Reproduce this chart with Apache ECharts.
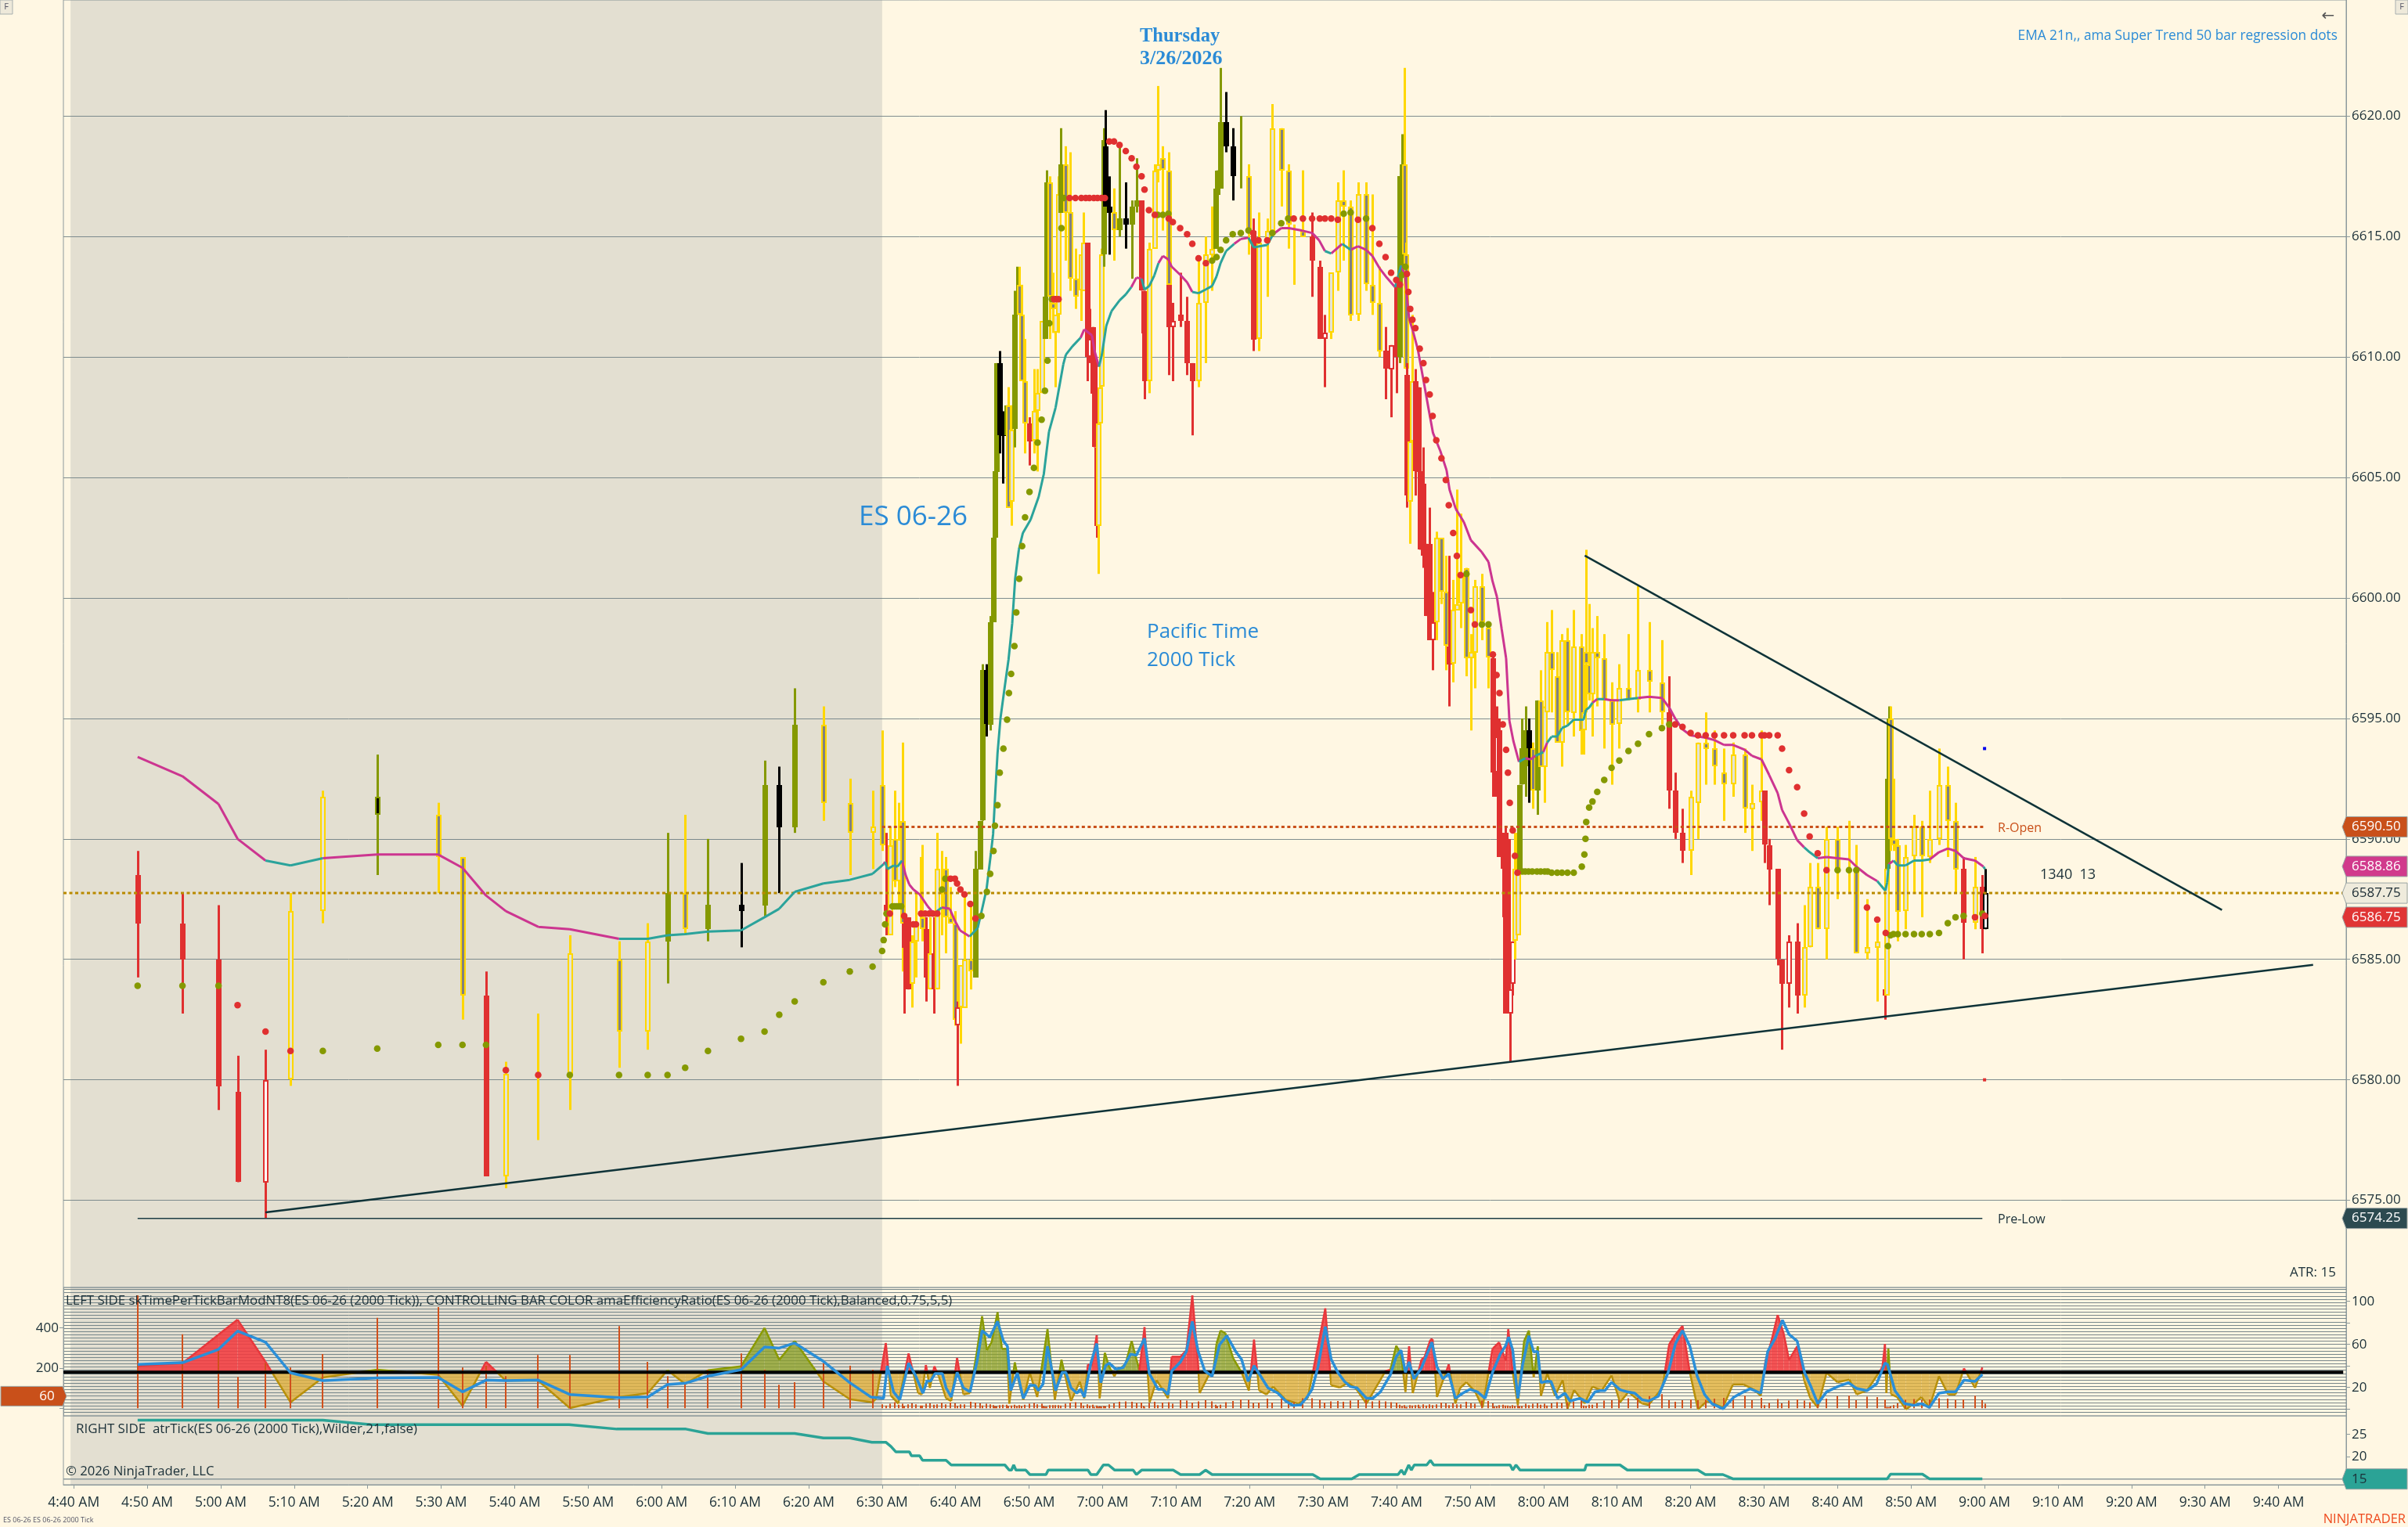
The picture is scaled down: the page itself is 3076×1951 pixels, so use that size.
<!DOCTYPE html>
<html><head><meta charset="utf-8">
<script src="https://cdn.jsdelivr.net/npm/echarts@6/dist/echarts.min.js"></script>
<style>html,body{margin:0;padding:0;background:#FFF7E3;overflow:hidden}#c{width:3076px;height:1951px}</style>
</head><body><div id="c"></div>
<script>
const R=0,Y=1,G=2,K=3,M=0,T=1;
// time in minutes after midnight
const xMin=278.6,xMax=589.2;
const timeTicks=[280,290,300,310,320,330,340,350,360,370,380,390,400,410,420,430,440,450,460,470,480,490,500,510,520,530,540,550,560,570,580];
const priceTicks=[6575,6580,6585,6590,6595,6600,6605,6610,6615,6620];
// [time, open, high, low, close, colour, time-per-tick-bar]
const barRows=[
[288.7,6588.5,6589.5,6584.25,6586.5,R,563],[294.8,6586.5,6587.75,6582.75,6585,R,369],[299.7,6585,6587.25,6578.75,6579.75,R,290],[302.3,6579.5,6581,6575.75,6575.75,R,156],[306.1,6575.75,6581.25,6574.25,6580,R,225],
[309.5,6580,6587.75,6579.75,6587,Y,203],[313.9,6587,6592,6586.5,6591.75,Y,270],[321.3,6591.75,6593.5,6588.5,6591,G,450],[329.6,6591,6591.5,6587.75,6589.25,Y,504],[332.9,6589.25,6589.25,6582.5,6583.5,Y,203],
[336.1,6583.5,6584.5,6576,6576,R,212],[338.8,6576,6580.75,6575.5,6580.25,Y,160],[343.2,6580.25,6582.75,6577.5,6580.25,Y,265],[347.5,6580.25,6586,6578.75,6585.25,Y,265],[354.2,6585,6585.75,6580.5,6582,Y,410],
[358.1,6582,6586.5,6581.25,6585.75,Y,231],[360.8,6585.75,6590.25,6584,6587.75,G,160],[363.2,6587.75,6591,6586,6586.25,Y,127],[366.3,6586.25,6590,6585.75,6587.25,G,192],[370.8,6587.25,6589,6585.5,6587,K,273],
[374,6587.25,6593.25,6586.75,6592.25,G,192],[376,6592.25,6593,6587.75,6590.5,K,117],[378.1,6590.5,6596.25,6590.25,6594.75,G,130],[382,6594.75,6595.5,6590.75,6591.5,Y,225],[385.6,6591.5,6592.5,6588.5,6590.25,Y,212],[388.7,6590.25,6592,6588.75,6590.5,Y,192],
[390,6592.25,6594.5,6589.5,6589.75,Y,20],[390.5,6587.25,6590.25,6586,6587,R,14],[391.05,6586,6590.5,6586,6589.75,Y,22],[391.75,6590,6592,6588,6588.25,Y,30],[392.2,6588.25,6591.5,6587.25,6590,Y,18],[392.75,6590.75,6594,6584.5,6586.5,Y,22],
[393,6586.5,6586.75,6582.75,6585.5,R,12],[393.5,6586.75,6586.75,6583.75,6583.75,R,20],[394.1,6584,6586,6583,6585.75,Y,24],[394.6,6585.75,6587.75,6584.25,6586.5,Y,20],[395.2,6587,6589.25,6586.75,6587,Y,14],[395.5,6586.75,6589.75,6585.75,6586.25,Y,14],
[396,6586.25,6586.75,6583.25,6584.25,R,22],[396.55,6583.75,6586.75,6583.75,6585.25,Y,24],[397,6585.25,6586.75,6582.75,6583.75,R,18],[397.5,6583.75,6590.25,6583.75,6588.75,Y,20],[398.1,6587,6589.5,6586,6587,Y,26],[398.6,6588.75,6589.25,6585.25,6586.75,Y,20],
[399.3,6586.75,6588,6586.5,6586.5,Y,28],[399.9,6586.5,6587,6582.25,6582.5,Y,24],[400.2,6582.25,6583.25,6579.75,6583,R,12],[400.7,6583,6584.75,6581.5,6584.75,Y,20],[401.2,6583,6587.75,6583,6585,Y,20],[402,6585,6587.25,6583.75,6584.5,Y,32],
[402.7,6584.25,6589.5,6584.25,6588.75,G,28],[403.3,6588.75,6590.75,6588.75,6590.75,G,24],[403.65,6590.75,6597.25,6590.75,6597,G,14],[404.2,6597,6597.25,6594.25,6594.75,K,22],[404.7,6594.75,6599.25,6594.5,6599,G,20],[405.1,6599,6602.5,6599,6602.5,G,16],
[405.35,6602.5,6605.25,6602.5,6605.25,G,10],[405.6,6605.25,6609.75,6605.25,6609.75,G,10],[406,6609.75,6610.25,6606,6606.75,K,16],[406.45,6607,6607.75,6604.75,6606.75,K,18],[406.9,6606.75,6608,6606.75,6608,G,18],[407.2,6608,6608.75,6603.75,6603.75,Y,12],
[407.55,6604,6608,6603,6607,Y,14],[408,6607,6612.75,6606.25,6611.75,G,18],[408.3,6611.75,6613.75,6611.75,6612.25,G,12],[408.7,6613,6613.75,6611.75,6611.75,Y,16],[409,6611.75,6613,6609,6609,Y,12],[409.45,6609,6610.75,6606,6607.25,Y,18],
[410,6607.25,6607.5,6605.5,6606.5,R,22],[410.65,6606.5,6609.5,6606,6607.75,Y,26],[411.15,6607.75,6609.5,6605.25,6608.5,Y,20],[411.7,6608.5,6611.5,6608.5,6611.5,Y,22],[412,6611.5,6612.5,6611.5,6611.5,Y,12],[412.2,6610.75,6614.5,6610.75,6612.5,G,8],
[412.4,6612.5,6617.75,6612,6617.25,G,8],[412.8,6617.25,6617.5,6610.75,6612.5,Y,16],[413.2,6612.25,6613.5,6611,6612,Y,16],[413.6,6611,6611.75,6608.75,6611.75,Y,16],[414,6611.75,6617.5,6611,6616.75,Y,16],[414.35,6616,6619.5,6616,6618,G,14],
[414.9,6618,6618.75,6614,6616,Y,22],[415.6,6616,6618.5,6612.75,6613.25,Y,28],[416.35,6613.25,6614.5,6612,6612.5,Y,30],[417.05,6612.75,6614.25,6611.5,6614.25,Y,28],[417.4,6612.75,6616,6612.75,6614.75,Y,14],[417.9,6614.75,6614.75,6609,6610,R,20],
[418.25,6610,6612,6609.75,6610.75,R,14],[418.7,6611.25,6611.25,6608.5,6608.5,R,18],[418.85,6610,6610,6606.25,6606.25,R,6],[419.2,6606.25,6606.25,6602.5,6603,R,14],[419.4,6603,6607.25,6601,6607.25,Y,8],[419.65,6607.25,6612.25,6607.25,6608.75,Y,10],
[419.85,6608.75,6614.5,6608.75,6614.25,Y,8],[420.15,6614.25,6619.5,6613.75,6619,G,12],[420.4,6618.75,6620.25,6616.25,6616.25,K,10],[420.9,6616.25,6617.5,6614.25,6616,K,20],[421.5,6616,6617,6614,6615.25,Y,24],[422.3,6615.25,6618.75,6615,6615.75,G,32],
[423.15,6615.75,6617.25,6614.5,6615.5,K,34],[423.95,6615.5,6616.5,6613.25,6616.25,G,32],[424.6,6616.25,6618.25,6616,6616.5,G,26],[425.3,6616.5,6616.5,6612.75,6612.75,R,28],[425.6,6612.75,6612.75,6611,6611,R,12],[425.7,6612.75,6612.75,6608.25,6609,R,6],
[426.3,6609,6614.75,6608.5,6614.5,Y,26],[427.1,6614.5,6618,6614.5,6617.75,Y,32],[427.5,6617.75,6621.25,6617.25,6618,Y,16],[428.2,6618.25,6618.75,6615.25,6617.75,Y,28],[428.95,6617.75,6618.5,6613,6613,Y,30],[429,6613,6613,6609.25,6611.25,R,4],
[429.55,6611.25,6612.25,6609,6611.5,R,22],[430.55,6611.75,6613.5,6611.25,6611.5,R,40],[431.5,6611.5,6612.5,6609.25,6609.75,R,38],[432.2,6609.75,6609.75,6606.75,6609,R,28],[433.05,6609,6614,6608.75,6612.25,Y,34],[434.05,6612.25,6615,6609.75,6614.25,Y,40],
[434.9,6614.25,6616.25,6612.75,6614.5,Y,34],[435.35,6614.5,6617,6614.5,6617,G,18],[435.6,6616.75,6617.75,6616.75,6617.75,G,10],[436.05,6617,6622,6617,6619.75,G,18],[436.8,6619.75,6621,6618.5,6618.75,K,30],[437.7,6618.75,6619.5,6616.5,6617.5,K,36],
[438.8,6617.5,6620,6617,6617.5,G,44],[439.85,6617.5,6618,6614.25,6615.25,Y,42],[440.5,6615.25,6615.75,6610.25,6610.75,R,26],[441.2,6610.75,6616,6610.25,6614.75,Y,28],[442.4,6614.75,6615.75,6612.5,6615.25,Y,48],[443.1,6615.25,6620.5,6615.25,6619.5,Y,28],
[444.3,6619.5,6619.5,6616.25,6617.75,Y,48],[445.25,6617.75,6618,6614.5,6615.5,Y,38],[446,6615.5,6615.5,6613,6615.5,Y,30],[447.25,6615.25,6617.75,6615,6615,Y,50],[448.5,6615,6616,6612.5,6614,R,50],[449.55,6613.75,6614,6610.75,6610.75,R,42],
[450.25,6610.75,6611.75,6608.75,6611,R,28],[451.1,6611,6613.5,6610.75,6613.5,Y,34],[452,6613.5,6617.25,6612.75,6616.5,Y,36],[452.8,6616.5,6617.75,6614,6616.25,Y,32],[453.75,6616.25,6616.5,6611.5,6611.75,Y,38],[454.75,6611.75,6617.25,6611.5,6616.75,Y,40],
[455.85,6616.75,6617.25,6612.75,6613,Y,44],[456.7,6613,6616.75,6611.75,6612.25,Y,34],[457.65,6612.25,6613.75,6610,6610.25,Y,38],[458.5,6610.25,6611.25,6608.25,6609.5,R,34],[459.25,6609.5,6610.5,6607.5,6610.5,R,30],[459.95,6613,6613,6608.5,6610,R,28],
[460.4,6610,6617.5,6609.75,6617.5,G,18],[460.7,6613.5,6619.25,6613.5,6618,G,12],[461.1,6618,6622,6613.5,6614.25,Y,16],[461.25,6614.25,6614.75,6609.5,6609.5,Y,6],[461.4,6609.25,6609.75,6603.75,6604.25,R,6],[461.8,6604,6606.5,6602.25,6606.5,Y,16],
[462.15,6606.5,6611.75,6606.5,6609,Y,14],[462.55,6609,6609.5,6604.25,6605.25,R,16],[463,6608.75,6608.75,6605.25,6605.25,R,18],[463.15,6605.25,6605.25,6602,6602,R,6],[463.65,6604.75,6606.25,6601.25,6601.75,R,20],[464,6602.25,6602.25,6599.25,6599.25,R,14],
[464.5,6602.25,6603.75,6598.25,6598.25,R,20],[464.9,6598.25,6600.25,6597,6599,R,16],[465.4,6599,6602.75,6598.25,6602.5,Y,20],[466.1,6602.5,6602.5,6599.75,6600.25,Y,28],[466.7,6600.25,6601.75,6597,6598,Y,24],[467.1,6598,6601.75,6595.5,6597.25,R,16],
[467.7,6597.25,6600.75,6596.5,6599.5,Y,24],[468.2,6599.5,6604.5,6599.5,6599.75,Y,20],[468.7,6599.75,6603.5,6598.75,6601,Y,20],[469.5,6601.25,6601.25,6596.75,6597.5,Y,32],[470.1,6597.5,6598.5,6594.5,6597.75,Y,24],[470.65,6597.75,6600.75,6596.25,6600.5,Y,22],
[471.6,6600.5,6601,6598.25,6599,Y,38],[472.5,6598.75,6599,6596.25,6597.5,Y,36],[473.1,6597.5,6597.75,6592.5,6592.75,R,24],[473.3,6595.5,6595.5,6591.75,6591.75,R,8],[473.6,6592.75,6595.5,6591.75,6594.25,R,10],[474,6594.5,6595,6589.25,6589.25,R,16],
[474.45,6590.25,6590.25,6586.75,6588.75,R,18],[474.8,6590.25,6590.5,6582.75,6582.75,R,14],[475.15,6590,6590,6582.75,6582.75,R,14],[475.4,6582.75,6583.75,6580.75,6583.75,R,10],[475.8,6584,6585.75,6583.5,6585.75,R,16],[476.1,6585.75,6590.25,6585,6588.75,Y,12],
[476.5,6586,6590.75,6586,6590.25,Y,16],[476.75,6588.75,6592.25,6588.75,6592.25,G,10],[477.05,6592.25,6595,6592.25,6593.75,G,12],[477.6,6593,6595.5,6591.75,6594.5,G,22],[478,6594.5,6595,6591.5,6593.75,K,16],[478.55,6593.75,6594,6591.25,6592,Y,22],
[479.15,6592,6595.75,6591,6595.75,G,24],[479.6,6595.75,6597,6593,6593,Y,18],[480.15,6593,6595.5,6591.5,6595.5,Y,22],[480.5,6595.25,6599,6595.25,6597.75,Y,14],[481.1,6597.75,6599.5,6595.25,6597,Y,24],[481.85,6596.75,6597.75,6594,6594,Y,30],
[482.5,6594,6598.5,6593,6598.25,Y,26],[483.25,6598.25,6598.75,6594.75,6595.25,Y,30],[484.1,6595.25,6599.5,6594.25,6598,Y,34],[485.1,6598,6598.5,6593.5,6594.5,Y,40],[485.45,6594.5,6597.25,6593.5,6595.25,Y,14],[485.75,6597.75,6602,6595.25,6597.25,Y,12],
[486.2,6597.25,6599.75,6595.75,6596,Y,18],[486.65,6596,6598.75,6594.25,6597.75,Y,18],[487.3,6597.75,6599.25,6595.5,6597.5,Y,26],[488.25,6597.5,6598.5,6593.75,6595.75,Y,38],[489.25,6595.75,6596.5,6592.25,6594.75,Y,40],[490.3,6594.75,6597.25,6593.75,6596.25,Y,42],
[491.55,6596.25,6598.5,6595.75,6595.75,Y,50],[492.85,6595.75,6600.5,6595.25,6597,Y,52],[494.35,6597,6599,6595.25,6596.5,Y,60],[496.1,6596.5,6598.25,6594.75,6595.25,Y,70],[497.1,6595.25,6596.75,6591.25,6592,R,40],[497.9,6592,6592.75,6590,6590.25,R,32],
[498.9,6590.25,6591.25,6589,6589.5,R,40],[500,6589.5,6592,6588.5,6591.75,Y,44],[501,6591.5,6594,6590,6594,Y,40],[502.05,6594,6595.25,6592.25,6593.75,Y,42],[503.25,6593.75,6594.5,6592.25,6593,Y,48],[504.55,6592.75,6593.75,6590.75,6592.25,Y,52],
[505.8,6592.25,6594,6591.75,6593.5,Y,50],[507.35,6593.5,6593.75,6590.25,6591.25,Y,62],[508.35,6591.25,6592.25,6589.5,6591.5,Y,40],[509.65,6591.5,6594.5,6590.75,6592,Y,52],[510.05,6592,6592,6589,6589.75,R,16],[510.7,6589.75,6590,6587.25,6588.75,R,26],
[511.85,6588.75,6588.75,6584.75,6585,R,46],[512.45,6585,6585,6581.25,6584,R,24],[513.4,6584,6586,6583,6585.75,R,38],[514.5,6585.75,6586.5,6582.75,6583.5,R,44],[515.45,6583.5,6587.25,6583,6585.5,Y,38],[516.2,6585.5,6589,6585.5,6588,Y,30],
[517.3,6588,6589,6586.25,6586.25,Y,44],[518.5,6586.25,6590.5,6585,6590,Y,48],[520,6590,6590.5,6587.5,6588.75,Y,60],[521.55,6588.75,6590.75,6587.75,6588.75,Y,62],[522.55,6588.75,6589.75,6585.25,6585.25,Y,40],[524,6585.25,6587.5,6585,6585.5,Y,58],
[525.4,6585.5,6586.5,6583.25,6585.75,Y,56],[526.5,6583.75,6585.75,6582.5,6583.5,R,44],[526.65,6583.5,6588.75,6583.5,6588.75,Y,6],[526.8,6588.75,6592.5,6588.75,6592.5,G,6],[526.95,6592.5,6595.5,6592.5,6595,G,6],[527.2,6595,6595.5,6589.5,6590,Y,10],
[527.6,6590,6592.5,6589.5,6589.75,Y,16],[528.2,6589.75,6590,6585.75,6587,Y,24],[529.25,6587,6589.75,6586.25,6589.25,Y,42],[530.4,6589.25,6591,6587.75,6590.5,Y,46],[531.45,6590.5,6590.75,6586.75,6589.25,Y,42],[532.55,6589.25,6592,6589,6590,Y,44],
[533.8,6590,6593.75,6589.75,6592.25,Y,50],[535,6592.25,6593,6589.25,6590.75,Y,48],[536.05,6590.75,6591.5,6587.75,6588.75,Y,42],[537.15,6588.75,6589.25,6585,6586.5,R,44],[538.7,6586.5,6589.25,6586.25,6588,Y,62],[539.7,6588,6588.5,6585.25,6586.25,R,40],
[540.05,6586.25,6588.75,6586.25,6587.75,K,22]
];
// EMA [time, value, colour]
const emaRows=[[288.7,6593.4,M],[294.8,6592.6,M],[299.7,6591.45,M],[302.3,6590,M],[306.1,6589.1,M],[309.5,6588.9,T],[313.9,6589.2,T],[321.3,6589.35,M],[329.6,6589.35,M],[332.9,6588.8,M],[336.1,6587.65,M],[338.8,6587,M],[343.2,6586.35,M],[347.5,6586.25,M],[354.2,6585.85,M],[358.1,6585.85,T],[360.8,6586,T],[363.2,6586.05,T],[366.3,6586.15,T],[370.8,6586.2,T],[374,6586.75,T],[376,6587.1,T],[378.1,6587.8,T],[382,6588.15,T],[385.6,6588.3,T],[388.7,6588.55,T],[390.2,6588.95,T],[390.4,6589.05,M],[390.7,6588.75,T],[391.6,6588.9,T],[392.1,6588.85,T],[392.7,6589.1,T],[393.2,6588.5,M],[393.7,6588.1,M],[394.25,6587.9,M],[395.1,6587.7,M],[396.2,6587.2,M],[396.9,6586.95,M],[397.25,6586.95,T],[398.1,6587.15,T],[399.2,6587.1,M],[399.9,6586.6,M],[400.6,6586.2,M],[401.9,6585.95,M],[403,6586.3,T],[403.5,6586.95,T],[404.2,6587.9,T],[404.8,6589.4,T],[405.1,6590.2,T],[405.4,6591.95,T],[405.7,6593.55,T],[406.1,6595,T],[406.65,6596.25,T],[407.2,6597.45,T],[407.7,6598.95,T],[408.1,6600.8,T],[408.6,6602,T],[409.15,6602.7,T],[410.2,6603.25,T],[411.3,6604.2,T],[412,6605.15,T],[412.7,6606.9,T],[413.6,6607.9,T],[414.65,6609.7,T],[415,6610.1,T],[415.9,6610.45,T],[417,6610.8,T],[417.5,6611.15,M],[418.55,6610.9,M],[418.9,6610.25,M],[419.5,6609.6,M],[419.9,6610.1,T],[420.5,6611.3,T],[421.2,6611.9,T],[422.3,6612.35,T],[423.15,6612.6,T],[423.9,6612.9,T],[424.6,6613.3,M],[425.3,6613.25,M],[425.7,6612.8,T],[426.35,6612.95,T],[427.05,6613.4,T],[427.6,6613.9,T],[428.2,6614.2,M],[428.95,6614.05,M],[429.4,6613.75,M],[430.6,6613.4,M],[431.5,6613.1,M],[432.2,6612.7,M],[433.05,6612.65,T],[434,6612.8,T],[434.9,6612.95,T],[435.5,6613.35,T],[436.05,6613.9,T],[436.8,6614.4,T],[437.9,6614.7,T],[438.8,6614.9,M],[439.85,6614.95,M],[440.55,6614.55,T],[441.45,6614.6,T],[442.4,6614.65,T],[443.2,6615.1,T],[444.3,6615.35,M],[445.35,6615.35,M],[447.1,6615.25,M],[448.5,6615.15,M],[449.45,6614.85,M],[450.25,6614.4,M],[451.1,6614.3,T],[452.6,6614.7,M],[453.05,6614.6,T],[453.75,6614.45,T],[454.75,6614.6,M],[455.85,6614.45,M],[456.7,6614.2,M],[457.65,6613.7,M],[458.65,6613.3,M],[459.8,6612.9,M],[460.6,6613.8,T],[461.15,6613.4,M],[461.7,6611.6,M],[462.2,6611.1,M],[462.9,6610.3,M],[463.65,6609.05,M],[464.35,6607.85,M],[464.95,6606.85,M],[465.95,6606.1,M],[466.8,6605.3,M],[467.2,6604.5,M],[468.05,6603.7,M],[469.15,6603.15,M],[470.1,6602.4,M],[471.6,6601.9,M],[472.5,6601.5,M],[473.05,6600.7,M],[473.65,6600.05,M],[474.3,6598.7,M],[474.9,6597.5,M],[475.35,6594.9,M],[475.9,6594.05,M],[476.65,6593.2,M],[477.5,6593.35,T],[478.2,6593.3,M],[478.9,6593.45,M],[479.95,6593.6,T],[480.5,6594,M],[481.1,6594.25,T],[481.85,6594.25,T],[482.5,6594.6,T],[483.25,6594.7,T],[484.1,6594.95,T],[485.45,6594.95,T],[485.75,6595.35,T],[486.2,6595.45,T],[486.65,6595.65,T],[487.3,6595.8,M],[488.25,6595.8,T],[489.25,6595.75,M],[490.3,6595.75,M],[491.55,6595.8,T],[492.85,6595.85,T],[494.35,6595.9,M],[496.1,6595.85,M],[497.1,6595.45,M],[497.9,6595,M],[498.9,6594.55,M],[500,6594.3,M],[502.05,6594.2,M],[503.25,6594.1,M],[504.55,6593.9,M],[505.8,6593.9,M],[507.35,6593.7,M],[508.35,6593.45,M],[509.65,6593.3,M],[510.7,6592.65,M],[511.85,6591.9,M],[512.45,6591.2,M],[513.4,6590.65,M],[514.5,6589.95,M],[515.45,6589.65,M],[516.2,6589.45,T],[517.3,6589.2,T],[518.5,6589.25,M],[520,6589.2,M],[521.55,6589.15,M],[522.55,6588.85,M],[524,6588.5,M],[525.4,6588.25,M],[526.5,6587.85,T],[526.75,6588.2,T],[526.95,6588.95,T],[527.2,6589,M],[527.6,6589.1,M],[528.2,6588.9,T],[529.25,6588.9,T],[530.4,6589.1,T],[531.45,6589.1,T],[532.55,6589.15,T],[533.8,6589.45,M],[535,6589.6,M],[536.05,6589.5,M],[537.15,6589.2,M],[538.7,6589.1,M],[539.85,6588.85,M],[540.05,6588.75,T]];
// super trend dots [time, value]
const redDots=[[302.3,6583.1],[306.1,6582],[309.5,6581.2],[338.8,6580.4],[343.2,6580.2],[391.05,6586.9],[393,6586.8],[393.7,6586.45],[394.25,6586.45],[394.6,6586.45],[395.3,6586.9],[395.85,6586.9],[396.4,6586.9],[396.9,6586.9],[397.5,6586.9],[399.3,6588.35],[399.9,6588.35],[400.2,6588.15],[400.65,6587.9],[401.2,6587.7],[402,6587.3],[402.7,6586.7],[413.4,6612.4],[413.65,6612.4],[414,6612.4],[415.5,6616.6],[416.3,6616.6],[417.1,6616.6],[417.7,6616.6],[418.2,6616.6],[418.8,6616.6],[419.3,6616.6],[419.85,6616.6],[420.3,6616.6],[420.9,6618.95],[421.55,6618.95],[422.3,6618.8],[423.15,6618.55],[423.95,6618.25],[424.6,6617.9],[425.3,6617.5],[425.7,6616.95],[426.3,6616.1],[427.1,6615.9],[429,6615.75],[429.55,6615.6],[430.55,6615.35],[431.5,6615.1],[432.2,6614.7],[433.05,6614.1],[434.05,6613.9],[440.5,6615.15],[441.2,6614.85],[442.4,6614.85],[446,6615.75],[447.25,6615.75],[448.5,6615.75],[449.55,6615.75],[450.25,6615.75],[451.1,6615.75],[452,6615.7],[454.75,6615.7],[456.7,6615.35],[457.65,6614.7],[458.5,6614.15],[459.25,6613.5],[459.95,6613.2],[460.45,6613],[461.4,6613.45],[461.6,6612.7],[461.85,6612],[462.15,6611.55],[462.55,6611.2],[463.15,6610.35],[463.65,6609.75],[464,6609.05],[464.5,6608.45],[464.9,6607.55],[465.4,6606.55],[466.1,6605.8],[466.7,6604.9],[467.1,6603.85],[467.7,6602.7],[468.2,6601.75],[468.7,6600.95],[470.1,6599.5],[470.65,6598.9],[473.1,6597.65],[473.6,6596.8],[474,6596.05],[474.45,6594.75],[474.9,6593.7],[475.15,6592.75],[475.4,6591.5],[475.8,6590.35],[476.1,6589.3],[476.45,6588.6],[497.9,6594.75],[498.9,6594.65],[500,6594.4],[501,6594.3],[502.05,6594.3],[503.25,6594.3],[504.55,6594.3],[505.8,6594.3],[507.35,6594.3],[508.35,6594.3],[509.65,6594.3],[510.05,6594.3],[510.7,6594.3],[511.85,6594.3],[512.45,6593.75],[513.4,6592.85],[514.5,6592.15],[515.45,6591.05],[516.2,6590.1],[517.3,6589.4],[518.5,6588.7],[524,6587.15],[525.4,6586.65],[526.55,6586.1],[538.7,6586.75],[540.05,6586.8]];
const oliveDots=[[288.7,6583.9],[294.8,6583.9],[299.7,6583.9],[313.9,6581.2],[321.3,6581.3],[329.6,6581.45],[332.9,6581.45],[336.1,6581.45],[347.5,6580.2],[354.2,6580.2],[358.1,6580.2],[360.8,6580.2],[363.2,6580.5],[366.3,6581.2],[370.8,6581.7],[374,6582],[376,6582.7],[378.1,6583.25],[382,6584.05],[385.6,6584.5],[388.7,6584.7],[390,6585.35],[390.2,6585.8],[390.4,6586.45],[390.6,6586.9],[391.4,6587.2],[391.7,6587.2],[392,6587.2],[392.3,6587.2],[392.6,6587.2],[398.15,6587.9],[398.6,6588.35],[403.5,6586.8],[404.25,6587.8],[404.7,6588.55],[405.15,6589.5],[405.35,6590.55],[405.7,6591.4],[406,6592.75],[406.5,6593.75],[407,6594.95],[407.25,6596.05],[407.55,6596.85],[408,6598],[408.25,6599.4],[408.65,6600.8],[409.05,6602.15],[409.45,6603.35],[410.05,6604.4],[410.65,6605.4],[411.15,6606.45],[411.7,6607.4],[412.15,6608.6],[412.5,6609.85],[412.75,6611.4],[413.1,6612.4],[414.4,6615.35],[414.7,6616.6],[427.5,6615.9],[428.2,6615.9],[428.95,6615.95],[434.9,6614],[435.5,6614.15],[436.05,6614.45],[436.8,6614.85],[437.7,6615.1],[438.8,6615.15],[439.85,6615.25],[443.1,6615.15],[444.3,6615.55],[445.25,6615.75],[452.8,6615.95],[453.75,6616],[455.85,6615.75],[460.7,6613.4],[461.2,6613.75],[469.5,6601],[471.6,6598.9],[472.5,6598.9],[477.1,6588.65],[477.5,6588.65],[477.95,6588.65],[478.45,6588.65],[479.1,6588.65],[479.6,6588.65],[480.15,6588.65],[480.55,6588.65],[481.1,6588.6],[481.85,6588.6],[482.5,6588.6],[483.25,6588.6],[484.1,6588.6],[485.2,6588.85],[485.55,6589.35],[485.7,6590],[485.8,6590.7],[486.2,6591.3],[486.65,6591.55],[487.3,6591.95],[488.25,6592.45],[489.25,6592.95],[490.3,6593.25],[491.55,6593.65],[492.85,6593.95],[494.35,6594.35],[496.1,6594.6],[497.1,6594.75],[520,6588.7],[521.55,6588.7],[522.55,6588.7],[526.85,6585.55],[527.2,6586],[527.6,6586.05],[528.2,6586.05],[529.25,6586.05],[530.4,6586.05],[531.45,6586.05],[532.55,6586.05],[533.8,6586.1],[535,6586.5],[536.05,6586.75],[537.15,6586.8],[539.7,6586.9]];
const blueMark=[[540,6593.75]],redMark=[[540,6580]];
const supportLine=[[306.1,6574.5],[584.7,6584.77]];
const resistanceLine=[[485.6,6601.76],[572.3,6587.05]];
const preLowLine=[[288.7,6574.25],[539.7,6574.25]];
const rOpenLine=[[390,6590.5],[540,6590.5]];
const closeLine=[[xMin,6587.75],[xMax,6587.75]];
// efficiency ratio vertices [time, value, colour when above the zero line]
const erRows=[[288.7,40.1,R],[294.8,42.6,R],[299.7,69,R],[302.3,83,R],[306.1,43.8,R],[309.5,6.2,G],[313.9,29.3,G],[321.3,36.5,G],[329.6,31.7,G],[332.9,3,R],[336.1,43.8,R],[338.8,26.3,R],[343.2,26.3,R],[347.5,0.9,R],[354.2,11,R],[358.1,14.7,G],[360.8,36,G],[363.2,23.2,G],[366.3,36,G],[370.8,39.7,G],[374,75.3,G],[376,45.7,G],[378.1,63.2,G],[382,25.6,G],[385.6,9.1,G],[388.7,6.2,G],[389.2,9.9,R],[390.5,61.3,R],[391.2,12.3,R],[392.2,5,R],[393.6,51.6,R],[394.9,14.7,R],[395.4,13.5,R],[395.96,40.9,R],[396.5,19.6,R],[397.1,39.7,R],[397.7,30.5,R],[398.7,9.9,R],[399.4,7.4,R],[400.2,47.4,R],[401.06,13.5,R],[401.95,14.7,G],[402.9,53.5,G],[403.6,86.2,G],[404.25,54.7,G],[404.9,62,G],[405.7,89.9,G],[406.3,55.9,G],[407,55.9,G],[407.3,5,G],[408.05,43.3,G],[408.7,22,G],[409.2,8.6,G],[410.1,33.6,G],[411.1,11.1,G],[412.5,74.1,G],[413.5,8.6,G],[414.4,45.7,G],[415.7,7.4,G],[416.9,25.6,G],[417.5,9.9,R],[418,41.4,R],[418.5,40.2,R],[419.2,68.5,R],[419.6,9.9,G],[420.3,52.3,G],[420.9,39,G],[421.6,30.5,G],[422.1,36.5,G],[423.1,41.4,G],[423.95,63.2,G],[424.6,46.2,G],[425,36,R],[425.7,76,R],[426.4,6.2,R],[427.35,26.8,R],[428.9,9.9,R],[429.4,48.6,R],[430.6,48.6,R],[431.4,54.7,R],[432.2,105.6,R],[433,41.4,R],[433.2,14.7,G],[434.5,32.2,G],[435,31.7,G],[435.5,60.8,G],[436.05,72.9,G],[436.7,70.5,G],[437.75,47.4,G],[438.9,34,G],[439.9,17.1,R],[440.6,64.4,R],[441.3,17.1,R],[442.3,13.5,R],[443.2,20.8,R],[444.9,8.6,R],[446.6,5,R],[447.9,9.9,R],[448.6,34,R],[450.3,93.5,R],[451.1,22,R],[452.3,20,R],[453.4,24.4,R],[454.4,19.6,R],[455.9,5,R],[458.5,35.3,R],[459.15,36.5,R],[459.95,58.8,G],[460.6,51,G],[461.2,15.9,R],[461.7,58.3,R],[462.2,14.7,R],[463.4,46.2,R],[463.8,48.2,R],[464.6,64.4,R],[464.9,64.9,R],[465.5,11.1,R],[467.1,41.4,R],[468,5,R],[468.65,19.6,R],[469.5,24.9,R],[470.7,15.9,R],[471.7,1.4,R],[473.05,55.9,R],[473.95,62,R],[474.85,45,R],[475.2,74.1,R],[475.8,34,R],[476.5,3.8,G],[477.35,63.2,G],[478,72.9,G],[478.65,29.3,G],[479.2,58.3,G],[479.65,12.3,G],[480.5,32.9,G],[481.55,12.3,G],[482.6,26.8,G],[483.25,0.2,G],[484.15,17.6,G],[485.6,5,G],[486.65,20.8,G],[487.9,17.1,G],[489.25,31.2,G],[490.4,6.2,G],[491.55,15.9,G],[493.4,5,G],[494.3,3.8,R],[496.15,19.6,R],[497.1,60.3,R],[497.95,69.3,R],[498.9,77.3,R],[499.9,34,R],[501,-0.3,R],[502.25,7.4,R],[504.4,1.4,R],[505.75,22.7,R],[507.2,22.7,R],[508.55,18.3,R],[509.55,12.3,R],[510.2,45,R],[511,63.2,R],[511.85,87.4,R],[512.65,70.5,R],[513.4,45.7,R],[514.5,58.3,R],[515.5,25.6,R],[516.3,9.9,R],[517.3,1.4,R],[518.5,33.6,R],[520,24.9,R],[521.6,27.3,R],[522.6,13.5,R],[524,17.1,R],[525.3,30.5,R],[526.1,38.9,R],[526.45,60.3,R],[526.65,14.7,G],[526.9,55.9,G],[527.3,13.5,G],[528.1,11.1,G],[529.3,-0.3,G],[530.4,5,G],[531.4,11.1,G],[532.5,1.4,G],[533.8,30.5,R],[535.05,13.5,R],[536.05,13.5,R],[537.2,37.7,R],[538.7,19.6,R],[539.7,38.5,R]];
const erBlue=[[288.7,41.4],[294.8,43],[299.7,55.4],[302.3,72.4],[306.1,62],[309.5,33.6],[313.9,26.3],[321.3,28.8],[329.6,29.3],[332.9,15.9],[336.1,26.8],[338.8,26.3],[343.2,26.8],[347.5,13.5],[354.2,10.6],[358.1,11.1],[360.8,22.7],[363.2,23.9],[366.3,30.5],[370.8,36.5],[374,57.6],[376,56.6],[378.1,61.3],[382,44.3],[385.6,24.4],[388.5,11],[390.2,9.9],[390.7,40],[391.55,15.9],[392.4,8.6],[393.6,42.6],[394.5,31.7],[395.55,14.7],[396.1,26],[396.6,26],[397.2,32.9],[398.2,32.9],[398.7,19.6],[399.4,11.1],[400.2,34],[401.05,19.6],[401.95,15.9],[402.9,43.8],[403.6,72.9],[404.65,66.8],[405.7,81.4],[406.5,63.2],[407.05,58.3],[407.5,17.1],[408.4,33.6],[409.2,9.9],[410.1,22],[410.8,22],[411.25,17.1],[411.9,23.2],[412.5,58.3],[413.6,17.1],[414.5,34],[415,34],[415.7,19.6],[416.5,14.7],[417,18.3],[417.5,11.1],[418.4,42.6],[419.2,60.8],[419.75,24.4],[420.4,40.2],[420.9,42.6],[421.8,37],[422.8,38.5],[423.8,51],[424.6,49.9],[425.7,65.6],[426.35,32.9],[427.55,18.3],[428.2,18.3],[428.9,13.5],[429.4,35.3],[430.6,43.8],[431.4,53.5],[432.2,81.4],[433,53.5],[433.9,35.3],[434.9,30.5],[435.9,59.6],[436.9,68],[438.1,53.5],[438.9,46.2],[439.8,25.6],[440.6,40.2],[441.5,30.5],[442.5,19.6],[443.85,14.7],[444.9,7.4],[445.9,3.3],[446.9,3.8],[447.7,9.9],[448.5,18.3],[449.3,39],[450.3,76.5],[451.1,46.2],[452,34],[452.9,25.6],[453.7,20.8],[454.6,19.6],[455.9,9.9],[456.75,9.9],[457.8,15.9],[459.15,31.7],[459.95,48.6],[460.6,54.7],[461.2,34],[461.7,43.8],[462.35,28],[463.35,37.7],[464.8,62],[465.5,39],[466.3,28],[467.1,32.9],[468,9.9],[469,14.7],[470,18.3],[471,15.9],[472.05,9.9],[473.05,34],[474.1,51],[474.8,58.3],[475.25,66.8],[475.8,54.7],[476.5,9.9],[477.15,41.4],[478,68],[478.65,53],[479.2,53.5],[479.65,24.4],[480.35,25.6],[481,25.6],[481.9,9.9],[482.9,14.7],[483.6,7.4],[484.95,9.9],[486,6.2],[487,15.9],[487.7,17.1],[488.35,17.1],[489.25,24.9],[490.4,17.9],[491.4,15.9],[492.4,14.7],[493.4,8.6],[494.3,7.4],[495.6,11.8],[496.95,34],[497.95,60.8],[498.9,72.9],[499.9,58.3],[500.9,30.5],[501.9,13.5],[502.9,5],[504.4,0.2],[505.9,11.1],[507.2,15.9],[508.1,18.8],[509.55,14.7],[510.5,53.5],[511.5,65.6],[512.5,82.6],[513.4,69.3],[514.5,63.2],[515.5,34],[516.3,22],[517.3,5],[518.5,15.9],[520,20.8],[521.5,24.4],[522.6,19],[524,17.1],[525.3,23.2],[526.45,42.6],[526.8,41.4],[527.8,17.1],[529.1,5],[530.4,3.3],[531.4,5],[532.5,1.4],[533.8,14.7],[535.05,15.9],[536.05,15.9],[537.2,26.8],[538.7,25.6],[539.7,32.2]];
const erZero=34.2;
const erGuideLines=[-3,0,3,6,9,12,15,18,21,24,27,30,33,36,39,42,45,48,51,54,57,60,63,66,69,72,75,78,81,84,87,90,93,96,99,102,105,108,111];
const atrRows=[[288.7,28.2],[313.9,28.2],[320.5,27.2],[347.4,27.2],[353.9,26.2],[363.3,26.2],[366.3,25.2],[378.1,25.2],[382,24.2],[385.6,24.2],[388.6,23.25],[390.5,23.25],[391.2,22.3],[391.85,21.1],[393.7,21.1],[394,20.2],[395.1,20.2],[395.5,19.2],[398.7,19.2],[399.4,18.15],[406.7,18.15],[407.3,17],[407.6,17],[407.9,18.15],[408.2,17],[409.55,17],[410.1,16],[412.3,16],[412.6,17],[418,17],[418.4,16],[419.2,16],[420.1,18.15],[420.8,18.15],[421.65,17],[424.15,17],[424.6,16],[425.3,17],[429.6,17],[430.6,16],[433.2,16],[434,17],[434.9,16],[448.6,16],[449.6,15.05],[453.9,15.05],[454.9,16],[460.2,16],[460.65,17],[461.05,16],[461.65,18.15],[462,17],[462.4,18.15],[464.1,18.15],[464.6,19.2],[465.05,18.15],[475.45,18.15],[475.8,17],[476.25,18.15],[476.8,17],[485.6,17],[485.8,18.15],[490.4,18.15],[491.4,17],[501,17],[502,16],[504.4,16],[505.75,15.05],[526.75,15.05],[527.2,16.1],[531.55,16.1],[532.5,15.05],[539.7,15.05]];
const atrGuide=[[xMin,15],[xMax,15]];
// value badges [value, text, fill, text colour]
const priceBadges=[[6590.5,'6590.50','#C9501A','#fff'],[6588.86,'6588.86','#D13A8C','#fff'],[6587.75,'6587.75','#EFEBDC','#1B2B33'],[6586.75,'6586.75','#E03535','#fff'],[6574.25,'6574.25','#2C4A50','#fff']];

const INK='#1B3038',AX='#8D9A9C',BLUE='#2B8BD6',FONT='"Open Sans"';
const barCol=['#E03030','#FFD700','#859900','#000000'];
function inner(k,up){
  if(k===R) return up?'#FFFFFF':'#E03030';
  if(k===Y) return up?'#E3E3D6':'#808080';
  if(k===G) return up?'#859900':'#000000';
  return up?'#FFFFFF':'#000000';
}
function renderBar(p,api){
  const t=api.value(0),o=api.value(1),h=api.value(2),l=api.value(3),c=api.value(4),k=api.value(5);
  const x=Math.round(api.coord([t,o])[0]),yO=api.coord([t,o])[1],yH=api.coord([t,h])[1],yL=api.coord([t,l])[1],yC=api.coord([t,c])[1];
  const col=barCol[k],top=Math.round(Math.min(yO,yC)),hgt=Math.max(Math.round(Math.abs(yO-yC)),1);
  const kids=[{type:'rect',shape:{x:x-1,y:yH,width:3,height:Math.max(yL-yH,1)},style:{fill:col}}];
  if(Math.abs(yO-yC)>1){
    kids.push({type:'rect',shape:{x:x-3,y:top,width:7,height:hgt},style:{fill:col}});
    if(hgt>4) kids.push({type:'rect',shape:{x:x-1,y:top+2,width:3,height:hgt-4},style:{fill:inner(k,c>=o)}});
  }
  return {type:'group',children:kids};
}
function renderTpt(p,api){
  const t=api.value(0),a=api.coord([t,0]),b=api.coord([t,api.value(1)]);
  return {type:'rect',shape:{x:Math.round(a[0])-1,y:b[1],width:2,height:a[1]-b[1]},style:{fill:'#D0501C'}};
}
function renderEr(p,api){
  const t1=api.value(0),v1=api.value(1),t2=api.value(2),v2=api.value(3),k=api.value(4);
  const up=k===R?'#E8383C':'#8A9A00',upF=k===R?'rgba(243,60,64,0.88)':'rgba(140,160,40,0.78)';
  const dn='#B8900A',dnF='rgba(222,176,64,0.82)';
  const kids=[];
  const piece=(ta,va,tb,vb)=>{
    const above=(va+vb)/2>=erZero,pa=api.coord([ta,va]),pb=api.coord([tb,vb]),ba=api.coord([ta,erZero]),bb=api.coord([tb,erZero]);
    kids.push({type:'polygon',shape:{points:[pa,pb,bb,ba]},style:{fill:above?upF:dnF}});
    kids.push({type:'polyline',shape:{points:[pa,pb]},style:{stroke:above?up:dn,lineWidth:2.5,fill:null}});
  };
  if((v1-erZero)*(v2-erZero)<0){
    const f=(erZero-v1)/(v2-v1),tm=t1+f*(t2-t1);
    piece(t1,v1,tm,erZero);piece(tm,erZero,t2,v2);
  } else piece(t1,v1,t2,v2);
  return {type:'group',children:kids};
}
const erSegments=erRows.slice(1).map((r,i)=>{const a=erRows[i];return [a[0],a[1],r[0],r[1],r[1]>=a[1]?r[2]:a[2]];});
function emaSegs(col){
  const out=[];
  emaRows.slice(1).forEach((r,i)=>{const a=emaRows[i];if(r[2]===col){out.push([a[0],a[1]],[r[0],r[1]],[r[0],null]);}});
  return out;
}
function badgeRight(list,xI,yI,z){
  return {type:'custom',xAxisIndex:xI,yAxisIndex:yI,clip:false,z:z,silent:true,data:list.map(b=>[xMax,b[0]]),encode:{x:0,y:1},
    renderItem(p,api){
      const b=list[p.dataIndex],q=api.coord([xMax,b[0]]),x=q[0],y=q[1];
      return {type:'group',children:[
        {type:'polygon',shape:{points:[[x-5,y],[x,y-13],[x+78,y-13],[x+78,y+13],[x,y+13]]},style:{fill:b[2],stroke:'#9AA5A5',lineWidth:1}},
        {type:'text',style:{x:x+7,y:y,text:b[1],fill:b[3],font:'17px '+FONT,verticalAlign:'middle',align:'left'}}
      ]};
    }};
}
function lineS(data,color,width,xI,yI,extra){
  return Object.assign({type:'line',xAxisIndex:xI,yAxisIndex:yI,data,showSymbol:false,symbol:'none',silent:true,animation:false,lineStyle:{color,width},clip:false},extra||{});
}
const shade=i=>({type:'line',xAxisIndex:i,yAxisIndex:i===0?0:(i===1?1:4),data:[],silent:true,markArea:{silent:true,itemStyle:{color:'rgba(115,132,138,0.2)'},data:[[{xAxis:279.57},{xAxis:390}]]}});
const txt=(x,y,text,font,fill,align)=>({type:'text',x,y,silent:true,z:50,style:{text,font,fill,align:align||'left',verticalAlign:'middle'}});
const fmtTime=v=>{const h=Math.floor(v/60),m=Math.round(v-h*60);return h+':'+String(m).padStart(2,'0')+' AM';};

const series=[
 shade(0),shade(1),shade(2),
 {type:'custom',xAxisIndex:0,yAxisIndex:0,data:barRows,renderItem:renderBar,encode:{x:0,y:[1,2,3,4]},silent:true,z:3},
 lineS(rOpenLine,'#C9501A',3,0,0,{z:4,lineStyle:{color:'#C9501A',width:3,type:[4,3.5]}}),
 lineS(closeLine,'#B98A00',3,0,0,{z:4,lineStyle:{color:'#B98A00',width:3,type:[4,3.5]}}),
 lineS(emaSegs(M),'#CC3590',3,0,0,{z:5}),
 lineS(emaSegs(T),'#2BA39B',3,0,0,{z:5}),
 {type:'scatter',xAxisIndex:0,yAxisIndex:0,data:oliveDots,symbolSize:8.5,itemStyle:{color:'#859900',opacity:1},silent:true,z:6},
 {type:'scatter',xAxisIndex:0,yAxisIndex:0,data:redDots,symbolSize:8.5,itemStyle:{color:'#E03030',opacity:1},silent:true,z:6},
 {type:'scatter',xAxisIndex:0,yAxisIndex:0,data:blueMark,symbol:'rect',symbolSize:4,itemStyle:{color:'#0000EE',opacity:1},silent:true,z:6},
 {type:'scatter',xAxisIndex:0,yAxisIndex:0,data:redMark,symbol:'rect',symbolSize:4,itemStyle:{color:'#E03030',opacity:1},silent:true,z:6},
 lineS(supportLine,'#0F3338',2.5,0,0,{z:7}),
 lineS(resistanceLine,'#0F3338',2.5,0,0,{z:7}),
 lineS(preLowLine,'#1D3D44',1.5,0,0,{z:7}),
 badgeRight(priceBadges,0,0,20),
 {type:'custom',xAxisIndex:1,yAxisIndex:2,data:erSegments,renderItem:renderEr,encode:{x:[0,2],y:[1,3]},silent:true,z:3},
 {type:'custom',xAxisIndex:1,yAxisIndex:1,data:barRows.map(r=>[r[0],r[6]]),renderItem:renderTpt,encode:{x:0,y:1},silent:true,z:4},
 lineS([[xMin,erZero],[xMax-0.4,erZero]],'#000',4,1,2,{z:5}),
 lineS(erBlue,'#2B8FD8',3.5,1,2,{z:6}),
 {type:'custom',xAxisIndex:1,yAxisIndex:1,clip:false,z:20,silent:true,data:[[xMin,60]],encode:{x:0,y:1},renderItem(p,api){
   const q=api.coord([xMin,60]),x=q[0],y=q[1];
   return {type:'group',children:[{type:'polygon',shape:{points:[[x+4,y],[x-1,y-12.5],[x-80,y-12.5],[x-80,y+12.5],[x-1,y+12.5]]},style:{fill:'#C9501A',stroke:'#9AA5A5',lineWidth:1}},
     {type:'text',style:{x:x-21,y:y,text:'60',fill:'#fff',font:'17px '+FONT,align:'center',verticalAlign:'middle'}}]};
 }},
 lineS(atrGuide,AX,1.5,2,4,{z:2}),
 lineS(atrRows,'#2BA396',3.5,2,4,{z:5}),
 badgeRight([[15,'15','#2BA396',INK]],2,4,20)
];
const yCommon={type:'value',scale:true,axisLine:{show:true,lineStyle:{color:AX}},axisTick:{length:5,lineStyle:{color:AX}},splitLine:{show:false},axisLabel:{color:INK,fontFamily:FONT,fontSize:17,margin:7,hideOverlap:false,showMinLabel:true,showMaxLabel:true}};
const mk=(o)=>{const r=JSON.parse(JSON.stringify(yCommon));for(const k in o){if(typeof o[k]==='object'&&r[k])Object.assign(r[k],o[k]);else r[k]=o[k];}return r;};
const yAxes=[
 mk({gridIndex:0,position:'right',min:6571.38,max:6624.82,axisTick:{customValues:priceTicks},axisLabel:{customValues:priceTicks,formatter:v=>v.toFixed(2)},splitLine:{show:true,lineStyle:{color:'#7F8D8E',width:1}}}),
 mk({gridIndex:1,position:'left',min:-38,max:601.6,axisTick:{customValues:[0,200,400]},axisLabel:{customValues:[200,400],margin:6}}),
 mk({gridIndex:1,position:'right',min:-6.4,max:112.9,axisTick:{customValues:[0,20,40,60,80,100]},axisLabel:{customValues:[20,60,100]}}),
 {type:'value',gridIndex:1,position:'right',min:-6.4,max:112.9,axisLine:{show:false},axisLabel:{show:false},axisTick:{show:false,customValues:erGuideLines},splitLine:{show:true,lineStyle:{color:'rgba(95,115,122,0.85)',width:1}}},
 mk({gridIndex:2,position:'right',min:13.72,max:29.16,axisTick:{customValues:[15,20,25]},axisLabel:{customValues:[20,25]}})
];
const xBase={type:'value',min:xMin,max:xMax,splitLine:{show:false}};
const option={
 backgroundColor:'#FFF7E3',animation:false,
 grid:[
  {left:81,right:79,top:0,height:1645,show:true,borderColor:AX,borderWidth:1,backgroundColor:'transparent'},
  {left:81,right:79,top:1645,height:164,show:true,borderColor:AX,borderWidth:1,backgroundColor:'transparent'},
  {left:81,right:79,top:1809,height:88,show:true,borderColor:AX,borderWidth:1,backgroundColor:'transparent'}
 ],
 xAxis:[
  Object.assign({},xBase,{gridIndex:0,show:false}),
  Object.assign({},xBase,{gridIndex:1,show:false}),
  Object.assign({},xBase,{gridIndex:2,position:'bottom',axisLine:{show:true,lineStyle:{color:AX}},axisTick:{length:5,customValues:timeTicks,lineStyle:{color:AX}},axisLabel:{customValues:timeTicks,formatter:fmtTime,color:INK,fontFamily:FONT,fontSize:17.5,margin:14,hideOverlap:false}})
 ],
 yAxis:yAxes,series,
 graphic:[
  txt(1456,47,'Thursday','bold 24.5px "Liberation Serif"',BLUE),
  txt(1456,75,'3/26/2026','bold 26px "Liberation Serif"',BLUE),
  txt(1097,661,'ES 06-26','35px '+FONT,BLUE),
  txt(1465,808,'Pacific Time','26px '+FONT,BLUE),
  txt(1465,844,'2000 Tick','26px '+FONT,BLUE),
  txt(2986,46,'EMA 21n,, ama Super Trend 50 bar regression dots','17.3px '+FONT,BLUE,'right'),
  txt(2974,21,'←','20px "DejaVu Sans"','#555','center'),
  txt(2606,1118,'1340  13','18px '+FONT,INK),
  txt(2552,1558,'Pre-Low','16px '+FONT,INK),
  txt(2552,1058,'R-Open','16px '+FONT,'#C9501A'),
  txt(2925,1626,'ATR: 15','17px '+FONT,INK),
  txt(84,1662,'LEFT SIDE skTimePerTickBarModNT8(ES 06-26 (2000 Tick)), CONTROLLING BAR COLOR amaEfficiencyRatio(ES 06-26 (2000 Tick),Balanced,0.75,5,5)','16.85px '+FONT,INK),
  txt(97,1826,'RIGHT SIDE  atrTick(ES 06-26 (2000 Tick),Wilder,21,false)','16.9px '+FONT,INK),
  txt(84,1880,'© 2026 NinjaTrader, LLC','16.7px '+FONT,INK),
  txt(4,1942,'ES 06-26 ES 06-26 2000 Tick','9px '+FONT,'#556'),
  txt(3073,1941,'NINJATRADER','16.5px '+FONT,'#EE4A1E','right'),
  {type:'rect',shape:{x:0,y:0,width:16,height:18},style:{fill:'#EEE9DA',stroke:'#A8AFAF',lineWidth:1},silent:true,z:49},
  txt(8,9,'F','11px '+FONT,'#556','center'),
  {type:'rect',shape:{x:3060,y:0,width:16,height:18},style:{fill:'#EEE9DA',stroke:'#A8AFAF',lineWidth:1},silent:true,z:49},
  txt(3068,9,'F','11px '+FONT,'#556','center')
 ]
};
echarts.init(document.getElementById('c'),null,{renderer:'canvas'}).setOption(option);
</script></body></html>
